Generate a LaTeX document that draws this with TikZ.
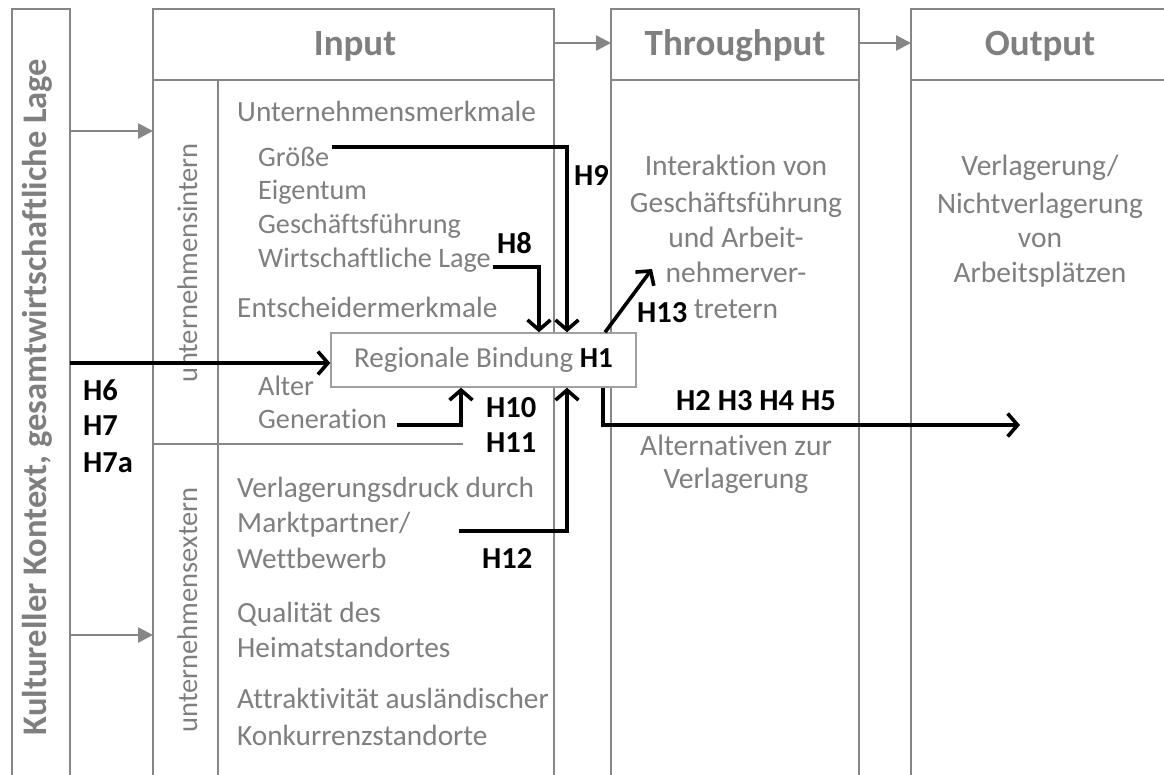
\documentclass[tikz,border=0pt]{standalone}
\usepackage{fontspec}
\setmainfont{Carlito}[Ligatures={NoCommon}]
\usetikzlibrary{arrows.meta}
\definecolor{lg}{HTML}{868686}
\definecolor{tg}{HTML}{7F7F7F}
\definecolor{bg}{HTML}{A0A0A0}
\begin{document}
\begin{tikzpicture}[x=1pt,y=-1pt,
  frame/.style={draw=lg,line width=2.6pt,line join=miter},
  gtxt/.style={text=tg,font=\fontsize{29.3}{34}\selectfont,inner sep=0pt,anchor=base west},
  stxt/.style={text=tg,font=\fontsize{28.2}{34}\selectfont,inner sep=0pt,anchor=base west},
  ctxt/.style={text=tg,font=\fontsize{29.5}{34}\selectfont,inner sep=0pt,anchor=base},
  hd/.style={text=tg,font=\fontsize{37}{42}\selectfont\bfseries,inner sep=0pt,anchor=base},
  hl/.style={text=black,font=\fontsize{30.5}{34}\selectfont\bfseries,inner sep=0pt,anchor=base west},
  garr/.style={draw=lg,line width=2.6pt,-{Triangle[length=15pt,width=15pt]}},
  barr/.style={draw=black,line width=3.6pt,-{Straight Barb[length=10pt,width=23pt,line width=3.6pt]}},
]
\useasboundingbox (0,0) rectangle (1164,774);
\clip (0,0) rectangle (1164,774);
\fill[white] (0,0) rectangle (1164,774);

% frames
\draw[frame] (12,800) -- (12,9) -- (70,9) -- (70,800);
\draw[frame] (153,800) -- (153,9) -- (554,9) -- (554,800);
\draw[frame] (153,80) -- (554,80);
\draw[frame] (218,80) -- (218,800);
\draw[frame] (153,444) -- (463,444);
\draw[frame] (611,800) -- (611,9) -- (859,9) -- (859,800);
\draw[frame] (611,80) -- (859,80);
\draw[frame] (911,800) -- (911,9) -- (1180,9);
\draw[frame] (911,80) -- (1180,80);

% header arrows
\coordinate (inE) at (555,43);
\coordinate (thW) at (611,43);
\coordinate (thE) at (860,43);
\coordinate (ouW) at (911,43);
\draw[garr] (inE) -- (thW);
\draw[garr] (thE) -- (ouW);
\coordinate (kkA) at (71,131);
\coordinate (inA) at (153,131);
\coordinate (kkB) at (71,635);
\coordinate (inB) at (153,635);
\draw[garr] (kkA) -- (inA);
\draw[garr] (kkB) -- (inB);

% headers
\node[hd] (input) at (355,55) {Input};
\node[hd] (through) at (735,55) {Throughput};
\node[hd] (output) at (1040,55) {Output};

% rotated labels
\node[text=tg,font=\fontsize{34.5}{40}\selectfont\bfseries,inner sep=0pt,anchor=base,rotate=90] (kk) at (46,397) {Kultureller Kontext, gesamtwirtschaftliche Lage};
\node[text=tg,font=\fontsize{28.5}{34}\selectfont,inner sep=0pt,anchor=base,rotate=90] (uint) at (197,263) {unternehmensintern};
\node[text=tg,font=\fontsize{28.5}{34}\selectfont,inner sep=0pt,anchor=base,rotate=90] (uext) at (197,610) {unternehmensextern};

% input texts
\node[gtxt] (um) at (237,121) {Unternehmensmerkmale};
\node[stxt] (groesse) at (258,166) {Größe};
\node[stxt] (eigentum) at (258,199.5) {Eigentum};
\node[stxt] (gf) at (258,233) {Geschäftsführung};
\node[stxt] (wl) at (258,267) {Wirtschaftliche Lage};
\node[gtxt] (em) at (237,317) {Entscheidermerkmale};
\node[stxt] (alter) at (258,395) {Alter};
\node[stxt] (gen) at (258,428) {Generation};
\node[gtxt] (vd) at (237,497) {Verlagerungsdruck durch};
\node[gtxt] (mp) at (237,532) {Marktpartner/};
\node[gtxt] (wb) at (237,568) {Wettbewerb};
\node[gtxt] (qd) at (237,622) {Qualität des};
\node[gtxt] (hs) at (237,657) {Heimatstandortes};
\node[gtxt] (aa) at (237,708) {Attraktivität ausländischer};
\node[gtxt] (ks) at (237,745) {Konkurrenzstandorte};

% throughput texts
\node[ctxt] (th1) at (736,175) {Interaktion von};
\node[ctxt] (th2) at (736,212) {Geschäftsführung};
\node[ctxt] (th3) at (736,247) {und Arbeit-};
\node[ctxt] (th4) at (736,282) {nehmerver-};
\node[ctxt] (th5) at (736,318) {tretern};
\node[ctxt] (al1) at (736,455) {Alternativen zur};
\node[ctxt] (al2) at (736,488) {Verlagerung};

% output texts
\node[ctxt] (ou1) at (1040,175) {Verlagerung/};
\node[ctxt] (ou2) at (1040,213) {Nichtverlagerung};
\node[ctxt] (ou3) at (1040,247) {von};
\node[ctxt] (ou4) at (1040,282) {Arbeitsplätzen};

% central box
\node[draw=bg,line width=1.4pt,fill=white,minimum width=305pt,minimum height=54pt,inner sep=0pt,
  text=tg,font=\fontsize{29}{34}\selectfont] (rb) at (483.5,360) {Regionale Bindung \textcolor{black}{\bfseries H1}};

% hypothesis labels
\node[hl] (h9) at (574,185) {H9};
\node[hl] (h8) at (497,253) {H8};
\node[hl] (h13) at (637,322) {H13};
\node[hl] (h10) at (486,417) {H10};
\node[hl] (h11) at (486,452) {H11};
\node[hl] (h12) at (482,568) {H12};
\node[hl] (h25) at (676,410) {H2 H3 H4 H5};
\node[hl] (h6) at (83,400) {H6};
\node[hl] (h7) at (83,435) {H7};
\node[hl] (h7a) at (83,472) {H7a};

% black connectors
\coordinate (c9) at (332,147);
\coordinate (k9) at (567,147);
\draw[barr] (c9) -- (k9) -- (k9 |- rb.north);
\coordinate (c8) at (493,267);
\coordinate (k8) at (539,267);
\draw[barr] (c8) -- (k8) -- (k8 |- rb.north);
\coordinate (c6) at (70,363);
\draw[barr] (c6) -- (c6 -| rb.west);
\coordinate (c10) at (397,425);
\coordinate (k10) at (461,425);
\draw[barr] (c10) -- (k10) -- (k10 |- rb.south);
\coordinate (c12) at (459,531);
\coordinate (k12) at (567,531);
\draw[barr] (c12) -- (k12) -- (k12 |- rb.south);
\coordinate (x2) at (603,425);
\coordinate (e2) at (1020,425);
\draw[barr] (x2 |- rb.south) -- (x2) -- (e2);
\coordinate (x13) at (605,0);
\coordinate (e13) at (652,269);
\draw[barr] (x13 |- rb.north) -- (e13);
\end{tikzpicture}
\end{document}
